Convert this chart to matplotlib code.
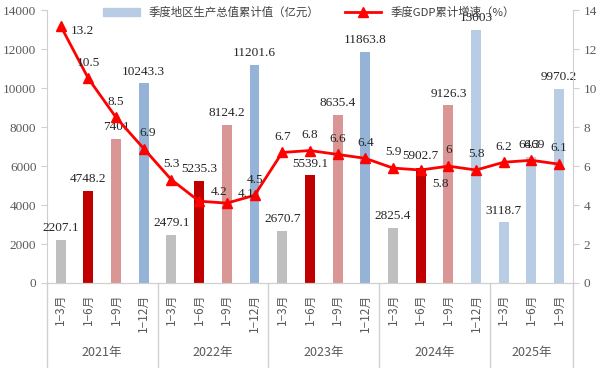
import matplotlib.pyplot as plt
from matplotlib.patches import Patch
from matplotlib.lines import Line2D
from matplotlib.transforms import blended_transform_factory

plt.rcParams['font.family'] = ['Liberation Serif', 'Noto Sans CJK SC']

# ============================================================
# DATA
# ============================================================
years = ['2021年', '2022年', '2023年', '2024年', '2025年']
months = ['1−3月', '1−6月', '1−9月', '1−12月'] * 4 + ['1−3月', '1−6月', '1−9月']
gdp = [2207.1, 4748.2, 7401, 10243.3,
       2479.1, 5235.3, 8124.2, 11201.6,
       2670.7, 5539.1, 8635.4, 11863.8,
       2825.4, 5902.7, 9126.3, 13003,
       3118.7, 6469, 9970.2]
growth = [13.2, 10.5, 8.5, 6.9,
          5.3, 4.2, 4.1, 4.5,
          6.7, 6.8, 6.6, 6.4,
          5.9, 5.8, 6, 5.8,
          6.2, 6.3, 6.1]

# ============================================================
# STYLE
# ============================================================
q_colors = ['#BFBFBF', '#C00000', '#DA9694', '#95B3D7']
light_blue = '#B8CCE4'
colors = [q_colors[i % 4] for i in range(len(gdp))]
colors[15] = light_blue
for i in range(16, 19):
    colors[i] = light_blue

x = list(range(len(gdp)))
cjk = ['Noto Sans CJK SC', 'DejaVu Sans']
gray = '#595959'
spine_c = '#D0D0D0'

fig = plt.figure(figsize=(6, 3.68), dpi=100)
ax = fig.add_axes([0.078, 0.231, 0.877, 0.741])
ax2 = ax.twinx()

ax.bar(x, gdp, width=0.36, color=colors, zorder=2)
ax.set_xlim(-0.5, len(gdp) - 0.5)
ax.set_ylim(0, 14000)
ax.set_yticks(range(0, 14001, 2000))
ax.set_xticks([])

for xi, v in zip(x, gdp):
    txt = f'{v:g}'
    ax.annotate(txt, (xi, v), xytext=(0, 4), textcoords='offset points',
                ha='center', va='bottom', fontsize=9.5, color='#262626')

ax2.plot(x, growth, color='#FF0000', linewidth=2, marker='^', markersize=7.5, zorder=5)
ax2.set_ylim(0, 14)
ax2.set_yticks(range(0, 15, 2))

# line label offsets (points)
offs = {0: (16, -4), 3: (3, 7), 5: (14, 2), 6: (14, 2), 13: (14, -10)}
for xi, v in zip(x, growth):
    dx, dy = offs.get(xi, (0, 7))
    ax2.annotate(f'{v:g}', (xi, v), xytext=(dx, dy), textcoords='offset points',
                 ha='center', va='bottom' if dy > 0 else 'center',
                 fontsize=9.5, color='#262626', zorder=6)

for a in (ax, ax2):
    a.spines['top'].set_visible(False)
    for s in ('left', 'right', 'bottom'):
        a.spines[s].set_color(spine_c)
    a.tick_params(axis='y', colors=spine_c, labelcolor=gray, labelsize=9.5, length=4)
ax2.spines['left'].set_visible(False)
ax.spines['right'].set_visible(False)

# two-level category axis
tr = blended_transform_factory(ax.transData, ax.transAxes)
for xi, m in zip(x, months):
    ax.text(xi, -0.04, m, transform=tr, rotation=90, ha='center', va='top',
            fontsize=8.5, color=gray, family=cjk)
bounds = [-0.5, 3.5, 7.5, 11.5, 15.5, 18.5]
for b in bounds:
    ax.plot([b, b], [0, -0.31], transform=tr, color=spine_c, linewidth=1, clip_on=False)
for i, y in enumerate(years):
    c = (bounds[i] + bounds[i + 1]) / 2
    ax.text(c, -0.256, y, transform=tr, ha='center', va='center',
            fontsize=9, color=gray, family=cjk)

handles = [Patch(color=light_blue),
           Line2D([], [], color='#FF0000', linewidth=2, marker='^', markersize=7)]
fig.legend(handles, ['季度地区生产总值累计值（亿元）', '季度GDP累计增速（%）'],
           loc='upper center', bbox_to_anchor=(0.515, 1.01), ncol=2, frameon=False,
           prop={'family': cjk, 'size': 8.2}, handlelength=3.2, columnspacing=2.2,
           labelcolor='#404040')

plt.savefig('out.png', dpi=100)
